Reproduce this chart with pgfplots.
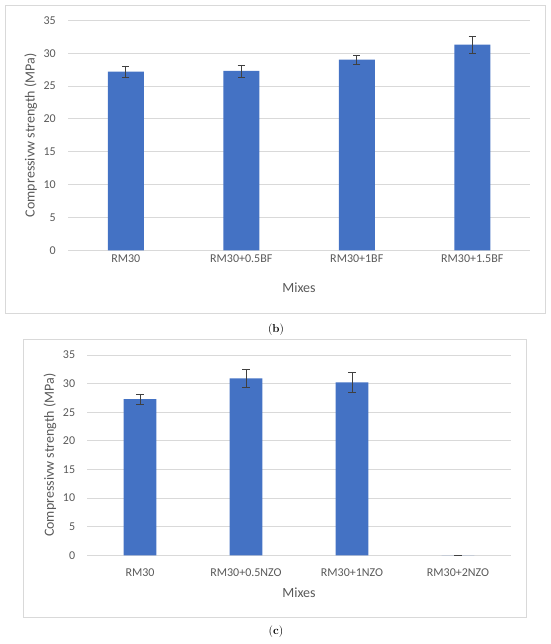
\documentclass[border=0pt]{standalone}
\usepackage{pgfplots}
\pgfplotsset{compat=1.18}
\usepackage{fontspec}
\newfontfamily\chartfont{Carlito}
\definecolor{barblue}{HTML}{4472C4}
\definecolor{txtgray}{HTML}{595959}
\definecolor{gridgray}{HTML}{D9D9D9}
\definecolor{errgray}{HTML}{404040}
\pgfplotsset{mystyle/.style={
  scale only axis, ybar, xmin=-0.5, xmax=3.5, ymin=0, ymax=35,
  ytick={0,5,...,35}, xtick={0,1,2,3},
  axis line style={draw=none}, major tick length=0pt,
  ymajorgrids, grid style={gridgray, line width=0.8pt},
  tick label style={font=\chartfont\fontsize{12}{14}\selectfont, text=txtgray},
  label style={font=\chartfont\fontsize{14}{16}\selectfont, text=txtgray},
  /pgf/number format/assume math mode=true,
  xlabel=Mixes, ylabel={Compressivw strength (MPa)},
  xlabel style={at={(axis description cs:0.5,0)}, anchor=base, yshift=-42pt},
}}
\pgfplotsset{mybars/.style={
  fill=barblue, draw=none,
  error bars/.cd, y dir=both, y explicit,
  error bar style={errgray, line width=0.6pt},
  error mark options={rotate=90, mark size=3.6pt, errgray, line width=0.6pt},
}}
\begin{document}
\begin{tikzpicture}
\path (0,0) rectangle (550pt,-644pt);
\draw[gridgray, line width=0.8pt] (5pt,-5pt) rectangle (545pt,-313pt);
\draw[gridgray, line width=0.8pt] (23.3pt,-339.3pt) rectangle (526.7pt,-617.7pt);
\node[font=\fontsize{11.5}{13}\selectfont] at (276pt,-329.3pt) {(\textbf{b})};
\node[font=\fontsize{11.5}{13}\selectfont] at (276pt,-631.7pt) {(\textbf{c})};

\begin{axis}[mystyle,
  at={(68pt,-250.3pt)}, anchor=south west,
  width=462pt, height=230pt, bar width=36pt,
  xticklabels={RM30,RM30+0.5BF,RM30+1BF,RM30+1.5BF},
  xticklabel style={anchor=north, inner sep=0pt, yshift=-4.7pt},
  yticklabel style={anchor=east, inner sep=0pt, xshift=-12pt},
  ylabel style={at={(axis description cs:-0.0725,0.5)}, anchor=base},
]
\addplot[mybars] coordinates {
  (0,27.2) +- (0,0.85)
  (1,27.3) +- (0,0.9)
  (2,29.0) +- (0,0.65)
  (3,31.3) +- (0,1.25)
};
\end{axis}

\begin{axis}[mystyle,
  at={(87pt,-555.3pt)}, anchor=south west,
  width=424pt, height=200.3pt, bar width=32.7pt,
  xticklabels={RM30,RM30+0.5NZO,RM30+1NZO,RM30+2NZO},
  xticklabel style={anchor=north, inner sep=0pt, yshift=-13pt},
  yticklabel style={anchor=east, inner sep=0pt, xshift=-11.7pt},
  ylabel style={at={(axis description cs:-0.078,0.5)}, anchor=base},
]
\addplot[mybars] coordinates {
  (0,27.3) +- (0,0.9)
  (1,30.9) +- (0,1.6)
  (2,30.2) +- (0,1.75)
  (3,0) +- (0,0)
};
\end{axis}
\end{tikzpicture}
\end{document}
